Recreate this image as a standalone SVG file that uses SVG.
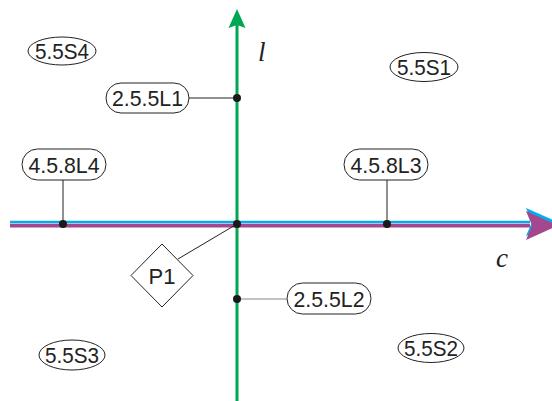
<svg xmlns="http://www.w3.org/2000/svg" width="552" height="401" viewBox="0 0 552 401">
<style>
.n{fill:#fff;stroke:#222;stroke-width:1}
.t{font-family:"Liberation Sans",Arial,sans-serif;font-size:22px;fill:#222;text-anchor:middle}
.m{font-family:"Liberation Serif","Times New Roman",serif;font-style:italic;font-size:27px;fill:#222}
.lk{stroke:#222;stroke-width:1;fill:none}
.d{fill:#1a1a1a}
</style>
<rect width="552" height="401" fill="#fff"/>
<g id="axes">
<line x1="237" y1="401" x2="237" y2="24" stroke="#00a650" stroke-width="3"/>
<path d="M237,9 L245.5,28 L237,25 L228.5,28 Z" fill="#00a650"/>
<line x1="10" y1="222" x2="530" y2="222" stroke="#00aeef" stroke-width="2.6"/>
<path d="M526,208 L558,222 L526,236 L532,222 Z" fill="#00aeef"/>
<line x1="10" y1="225.6" x2="530" y2="225.6" stroke="#a3478e" stroke-width="3.6"/>
<path d="M526,211 L558,225.6 L526,240 L532,225.6 Z" fill="#a3478e"/>
<text class="m" x="258" y="61">l</text>
<text class="m" x="496" y="267">c</text>
</g>
<g id="connectors">
<line class="lk" x1="189" y1="98" x2="237" y2="98"/>
<line class="lk" x1="63" y1="180" x2="63" y2="224"/>
<line class="lk" x1="387" y1="180" x2="387" y2="224"/>
<line class="lk" x1="178" y1="259" x2="237" y2="224"/>
<line x1="237" y1="299" x2="287" y2="299" stroke="#888" stroke-width="1.2"/>
</g>
<g id="points">
<circle class="d" cx="237" cy="98" r="4"/>
<circle class="d" cx="237" cy="224" r="4"/>
<circle class="d" cx="63" cy="224" r="4"/>
<circle class="d" cx="387" cy="224" r="4"/>
<circle class="d" cx="237" cy="299" r="4"/>
</g>
<g id="S4"><ellipse class="n" cx="62" cy="51" rx="34" ry="14"/><text class="t" x="62" y="59" textLength="54" lengthAdjust="spacingAndGlyphs">5.5S4</text></g>
<g id="S1"><ellipse class="n" cx="424" cy="67" rx="34" ry="14.5"/><text class="t" x="424" y="75" textLength="54" lengthAdjust="spacingAndGlyphs">5.5S1</text></g>
<g id="L1"><rect class="n" x="106" y="83" width="83" height="30" rx="15"/><text class="t" x="147.5" y="106" textLength="71" lengthAdjust="spacingAndGlyphs">2.5.5L1</text></g>
<g id="L4"><rect class="n" x="22" y="149" width="84" height="31" rx="15.5"/><text class="t" x="64" y="172.5" textLength="71" lengthAdjust="spacingAndGlyphs">4.5.8L4</text></g>
<g id="L3"><rect class="n" x="344" y="149" width="84" height="31" rx="15.5"/><text class="t" x="386" y="172.5" textLength="71" lengthAdjust="spacingAndGlyphs">4.5.8L3</text></g>
<g id="P1"><path class="n" d="M162,244 L193,275.5 L162,307 L131,275.5 Z"/><text class="t" x="162" y="283.5">P1</text></g>
<g id="L2"><rect class="n" x="287" y="283" width="84" height="31" rx="15.5"/><text class="t" x="329" y="306.5" textLength="71" lengthAdjust="spacingAndGlyphs">2.5.5L2</text></g>
<g id="S3"><ellipse class="n" cx="72" cy="355" rx="33" ry="15"/><text class="t" x="72" y="363" textLength="54" lengthAdjust="spacingAndGlyphs">5.5S3</text></g>
<g id="S2"><ellipse class="n" cx="431" cy="348" rx="33" ry="14.5"/><text class="t" x="431" y="356" textLength="54" lengthAdjust="spacingAndGlyphs">5.5S2</text></g>
</svg>
